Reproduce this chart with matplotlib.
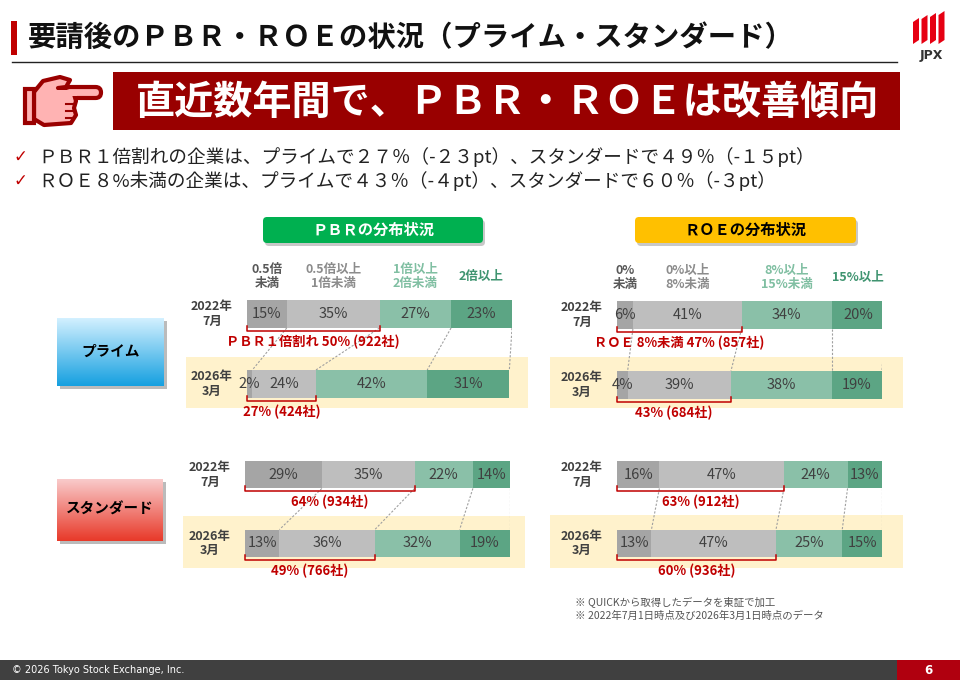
import numpy as np
import matplotlib
matplotlib.use("Agg")
import matplotlib.pyplot as plt
from matplotlib.patches import Rectangle, FancyBboxPatch, Polygon

plt.rcParams['font.family'] = ['Noto Sans CJK JP', 'DejaVu Sans']

# ---- data ----
periods = ["2022年\n7月", "2026年\n3月"]
pbr_bands = ["0.5倍\n未満", "0.5倍以上\n1倍未満", "1倍以上\n2倍未満", "2倍以上"]
roe_bands = ["0%\n未満", "0%以上\n8%未満", "8%以上\n15%未満", "15%以上"]

pbr_prime = [[15, 35, 27, 23], [2, 24, 42, 31]]
pbr_standard = [[29, 35, 22, 14], [13, 36, 32, 19]]
roe_prime = [[6, 41, 34, 20], [4, 39, 38, 19]]
roe_standard = [[16, 47, 24, 13], [13, 47, 25, 15]]

pbr_prime_notes = ["ＰＢＲ１倍割れ 50% (922社)", "27% (424社)"]
pbr_standard_notes = ["64% (934社)", "49% (766社)"]
roe_prime_notes = ["ＲＯＥ 8%未満 47% (857社)", "43% (684社)"]
roe_standard_notes = ["63% (912社)", "60% (936社)"]

title = "要請後のＰＢＲ・ＲＯＥの状況（プライム・スタンダード）"
banner = "直近数年間で、ＰＢＲ・ＲＯＥは改善傾向"
bullets = ["ＰＢＲ１倍割れの企業は、プライムで２７％（-２３pt）、スタンダードで４９％（-１５pt）",
           "ＲＯＥ８%未満の企業は、プライムで４３％（-４pt）、スタンダードで６０％（-３pt）"]
notes = ["※ QUICKから取得したデータを東証で加工",
         "※ 2022年7月1日時点及び2026年3月1日時点のデータ"]

seg_colors = ["#A5A5A5", "#BEBEBE", "#8AC0A8", "#5CA584"]
head_colors = ["#595959", "#8C8C8C", "#80BFA2", "#3F9470"]
RED = "#C00000"
W, H = 960, 680

fig = plt.figure(figsize=(W / 100, H / 100), dpi=100)
bg = fig.add_axes([0, 0, 1, 1])
bg.set_xlim(0, W)
bg.set_ylim(H, 0)
bg.axis("off")


def px_axes(x0, y0, x1, y1):
    a = fig.add_axes([x0 / W, 1 - y1 / H, (x1 - x0) / W, (y1 - y0) / H])
    a.patch.set_visible(False)
    a.axis("off")
    return a


def gradient_box(x0, y0, x1, y1, top, bottom):
    c0 = np.array(matplotlib.colors.to_rgb(top))
    c1 = np.array(matplotlib.colors.to_rgb(bottom))
    t = np.linspace(0, 1, 64)[:, None]
    img = (c0 * (1 - t) + c1 * t)[:, None, :]
    bg.add_patch(Rectangle((x0 + 3, y0 + 3), x1 - x0, y1 - y0, fc="#BBBBBB", ec="none", zorder=1))
    bg.imshow(img, extent=(x0, x1, y1, y0), aspect="auto", zorder=2)


# ---- header ----
bg.add_patch(Rectangle((11, 21), 6, 34, fc="#C00000", ec="none"))
bg.text(28, 38, title, fontsize=20.4, fontweight="bold", va="center", ha="left", color="#111111")
bg.plot([12, 897], [62, 62], color="#222222", lw=1)

# JPX logo
for i, (top, hgt) in enumerate([(18, 26), (15, 29), (13, 31), (11, 33)]):
    x = 913 + i * 8.5
    bg.add_patch(Polygon([(x, top + 4), (x + 6, top), (x + 6, top + hgt - 4), (x, top + hgt)],
                         fc="#E60012", ec="none"))
bg.text(931, 56, "JPX", fontsize=9, fontweight="bold", ha="center", va="center", color="#333333",
        family="DejaVu Sans")

# hand icon
PINK, DRED = "#FFB3B3", "#9A0000"
bg.add_patch(FancyBboxPatch((50, 87), 51, 11, boxstyle="round,pad=0,rounding_size=5.5",
                            fc=PINK, ec=DRED, lw=3, zorder=3))
bg.add_patch(Polygon([(34, 92), (43, 81), (60, 77), (70, 80), (66, 87), (58, 88), (74, 94),
                      (76, 101), (74, 108), (76, 115), (71, 123), (44, 125), (34, 119)],
                     fc=PINK, ec=DRED, lw=3, joinstyle="round", zorder=4))
bg.add_patch(Rectangle((57, 89.5), 20, 6.5, fc=PINK, ec="none", zorder=5))
bg.add_patch(Rectangle((25, 89), 9, 34, fc=PINK, ec=DRED, lw=3, zorder=5))
for yy in (104, 111, 118):
    bg.plot([66, 74], [yy, yy], color=DRED, lw=1.5, zorder=6)

# banner
bg.add_patch(Rectangle((113, 72), 787, 58, fc="#990000", ec="none"))
bg.text(508, 102, banner, fontsize=28.2, fontweight="bold", color="white", ha="center", va="center")

# bullets
for i, b in enumerate(bullets):
    y = 157 + i * 24
    bg.text(13, y, "✓", fontsize=12, color=RED, ha="left", va="center", family="DejaVu Sans")
    bg.text(38, y, b, fontsize=13.4, color="#222222", ha="left", va="center")

# section headers
for (x0, x1, fc, tc, label) in [(263, 483, "#00B050", "white", "ＰＢＲの分布状況"),
                                (635, 856, "#FFC000", "black", "ＲＯＥの分布状況")]:
    bg.add_patch(FancyBboxPatch((x0 + 2, 220), x1 - x0, 26, boxstyle="round,pad=0,rounding_size=4",
                                fc="#C8C8C8", ec="none"))
    bg.add_patch(FancyBboxPatch((x0, 217), x1 - x0, 26, boxstyle="round,pad=0,rounding_size=4",
                                fc=fc, ec="none"))
    bg.text((x0 + x1) / 2, 229.5, label, fontsize=11, fontweight="bold", color=tc,
            ha="center", va="center")

# market labels
gradient_box(57, 318, 164, 386, "#D2F0FF", "#16A0E0")
bg.text(110.5, 351, "プライム", fontsize=10.5, fontweight="bold", ha="center", va="center", zorder=3)
gradient_box(57, 479, 163, 541, "#F9CACA", "#E83A2A")
bg.text(110, 509, "スタンダード", fontsize=10.5, fontweight="bold", ha="center", va="center", zorder=3)

# yellow highlight bands behind the 2026 rows
for (x0, y0, x1, y1) in [(186, 357, 528, 408), (550, 357, 903, 408),
                         (183, 516, 525, 568), (550, 515, 903, 568)]:
    bg.add_patch(Rectangle((x0, y0), x1 - x0, y1 - y0, fc="#FFF2CC", ec="none"))

# notes
for i, n in enumerate(notes):
    bg.text(575, 603 + i * 13, n, fontsize=7.5, color="#555555", ha="left", va="center")

# footer
bg.add_patch(Rectangle((0, 660), W, 20, fc="#404040", ec="none"))
bg.add_patch(Rectangle((897, 660), 63, 20, fc="#B0000F", ec="none"))
bg.text(12, 670, "© 2026 Tokyo Stock Exchange, Inc.", fontsize=7, color="white", va="center",
        family=["Liberation Sans Narrow", "DejaVu Sans"])
bg.text(928, 670, "6", fontsize=8.5, fontweight="bold", color="white", va="center", ha="center",
        family="DejaVu Sans")


def panel(box, rows, bands, notes_, show_heads):
    ax = px_axes(*box)
    ax.set_xlim(0, 100)
    ax.set_ylim(1.2, -0.2)
    cums = []
    for r, vals in enumerate(rows):
        lefts = np.concatenate([[0], np.cumsum(vals)[:-1]])
        ax.barh(r, vals, left=lefts, height=0.4, color=seg_colors, edgecolor="none", zorder=2)
        for v, l in zip(vals, lefts):
            ax.text(l + v / 2, r, f"{v}%", ha="center", va="center", fontsize=10.5,
                    color="#404040", zorder=3)
        ax.text(-13.2, r, periods[r], ha="center", va="center", fontsize=9, fontweight="bold",
                color="#404040", linespacing=1.15)
        # bracket under the first two bands
        end = vals[0] + vals[1]
        ax.plot([0, 0, end, end], [r + 0.17, r + 0.24, r + 0.24, r + 0.17], color=RED, lw=1.1,
                zorder=4, clip_on=False)
        ax.text(end / 2, r + 0.40, notes_[r], ha="center", va="center", fontsize=9.5,
                fontweight="bold", color=RED)
        cums.append(np.cumsum(vals))
        if r == 0 and show_heads:
            for k, (v, l) in enumerate(zip(vals, lefts)):
                ax.text(l + v / 2, -0.54, bands[k], ha="center", va="center", fontsize=9,
                        fontweight="bold", color=head_colors[k], linespacing=1.1)
    for a, b in zip(cums[0], cums[1]):
        ax.plot([a, b], [0.2, 0.8], color="#A0A0A0", lw=0.8, ls=(0, (2, 1.5)), zorder=1)
    return ax


panel((247, 300, 512, 398), pbr_prime, pbr_bands, pbr_prime_notes, True)
panel((617, 301, 882, 399), roe_prime, roe_bands, roe_prime_notes, True)
panel((245, 461, 510, 557), pbr_standard, pbr_bands, pbr_standard_notes, False)
panel((617, 461, 882, 557), roe_standard, roe_bands, roe_standard_notes, False)

fig.savefig("out.png", dpi=100)
